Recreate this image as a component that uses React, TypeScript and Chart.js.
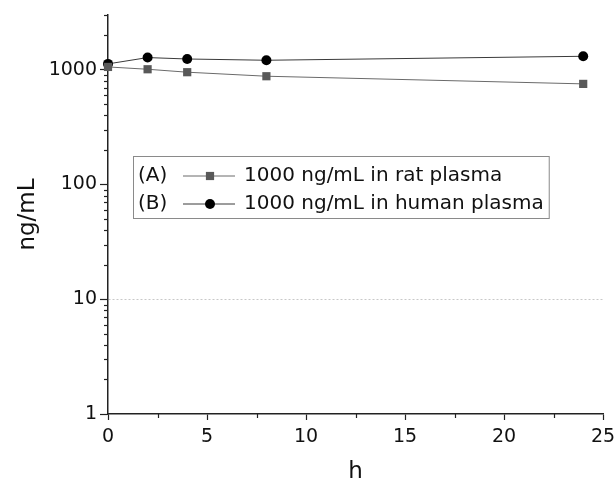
import React, { useEffect, useRef } from 'react';
import { Chart, registerables } from 'chart.js';

Chart.register(...registerables);

// ---- data ----
const hours = [0, 2, 4, 8, 24];
const ratPlasma = [1058, 1010, 952, 878, 753];
const humanPlasma = [1125, 1277, 1241, 1210, 1310];
const seriesTags = ['(A)', '(B)'];
const seriesLabels = ['1000 ng/mL in rat plasma', '1000 ng/mL in human plasma'];

// ---- axes ----
const yMin = 1;
const yMax = 3000;
const yDecades = [1, 10, 100, 1000];
const ySignificands = [1, 2, 3, 4, 5, 6, 7, 8, 9];
const yLabeledTicks = [1, 10, 100, 1000];
const yGridValues = [10];
const xMin = 0;
const xMax = 25;
const xStep = 2.5;
const xLabelEvery = 5;
const xTitle = 'h';
const yTitle = 'ng/mL';

const FONT = '"DejaVu Sans", Verdana, sans-serif';

const yTickValues: number[] = [];
yDecades.forEach((d) => ySignificands.forEach((s) => {
  const v = d * s;
  if (v <= yMax) yTickValues.push(v);
}));

const isYMajor = (v: number) => yLabeledTicks.includes(v);
const isXMajor = (v: number) => Math.abs(v % xLabelEvery) < 1e-6;

const minorTickPlugin = {
  id: 'minorTicks',
  afterDraw(chart: any) {
    const { ctx } = chart;
    const ys = chart.scales.y;
    const xs = chart.scales.x;
    ctx.save();
    ctx.strokeStyle = '#222';
    ctx.lineWidth = 1.2;
    ys.ticks.forEach((t: any) => {
      if (isYMajor(t.value)) return;
      const py = Math.round(ys.getPixelForValue(t.value)) + 0.5;
      ctx.beginPath();
      ctx.moveTo(ys.right - 4, py);
      ctx.lineTo(ys.right, py);
      ctx.stroke();
    });
    xs.ticks.forEach((t: any) => {
      if (isXMajor(t.value)) return;
      const px = Math.round(xs.getPixelForValue(t.value)) + 0.5;
      ctx.beginPath();
      ctx.moveTo(px, xs.top);
      ctx.lineTo(px, xs.top + 4);
      ctx.stroke();
    });
    ctx.restore();
  },
};

const boxLegendPlugin = {
  id: 'boxLegend',
  afterDatasetsDraw(chart: any) {
    const { ctx, chartArea } = chart;
    const x0 = chartArea.left + 25;
    const y0 = chartArea.top + 141;
    const rowH = 28;
    ctx.save();
    ctx.font = '20px ' + FONT;
    const textX = x0 + 111;
    let maxW = 0;
    chart.data.datasets.forEach((ds: any) => {
      maxW = Math.max(maxW, ctx.measureText(ds.label).width);
    });
    const boxW = textX + maxW + 5 - x0;
    const boxH = 62;
    ctx.fillStyle = '#ffffff';
    ctx.fillRect(x0, y0, boxW, boxH);
    ctx.strokeStyle = '#8a8a8a';
    ctx.lineWidth = 1;
    ctx.strokeRect(Math.round(x0) + 0.5, Math.round(y0) + 0.5, boxW, boxH);
    chart.data.datasets.forEach((ds: any, i: number) => {
      const cy = y0 + 20 + i * rowH;
      ctx.fillStyle = '#111';
      ctx.textBaseline = 'middle';
      ctx.textAlign = 'left';
      ctx.fillText(seriesTags[i], x0 + 5, cy);
      ctx.fillText(ds.label, textX, cy);
      ctx.strokeStyle = ds.borderColor;
      ctx.lineWidth = 1;
      ctx.beginPath();
      ctx.moveTo(x0 + 50, cy);
      ctx.lineTo(x0 + 102, cy);
      ctx.stroke();
      const mx = x0 + 77;
      ctx.fillStyle = ds.pointBackgroundColor;
      if (ds.pointStyle === 'rect') {
        const s = ds.pointRadius * Math.SQRT1_2;
        ctx.fillRect(mx - s, cy - s, 2 * s, 2 * s);
      } else {
        ctx.beginPath();
        ctx.arc(mx, cy, ds.pointRadius, 0, Math.PI * 2);
        ctx.fill();
      }
    });
    ctx.restore();
  },
};

export default function App() {
  const ref = useRef<HTMLCanvasElement>(null);

  useEffect(() => {
    if (!ref.current) return;
    const chart = new Chart(ref.current, {
      type: 'line',
      data: {
        datasets: [
          {
            label: seriesLabels[0],
            data: hours.map((h, i) => ({ x: h, y: ratPlasma[i] })),
            borderColor: '#6a6a6a',
            borderWidth: 1,
            pointStyle: 'rect',
            pointRadius: 5.8,
            pointBackgroundColor: '#595959',
            pointBorderColor: '#595959',
            pointBorderWidth: 0,
            clip: false,
          } as any,
          {
            label: seriesLabels[1],
            data: hours.map((h, i) => ({ x: h, y: humanPlasma[i] })),
            borderColor: '#3a3a3a',
            borderWidth: 1,
            pointStyle: 'circle',
            pointRadius: 5,
            pointBackgroundColor: '#000000',
            pointBorderColor: '#000000',
            pointBorderWidth: 0,
            clip: false,
          } as any,
        ],
      },
      options: {
        animation: false,
        responsive: true,
        maintainAspectRatio: false,
        layout: { padding: { top: 15, right: 13, left: 0, bottom: 0 } },
        plugins: {
          legend: { display: false },
          tooltip: { enabled: false },
        },
        scales: {
          x: {
            type: 'linear',
            min: xMin,
            max: xMax,
            afterFit: (s: any) => { s.height = 77; s.paddingRight = 0; s.paddingLeft = 0; },
            ticks: {
              stepSize: xStep,
              autoSkip: false,
              maxRotation: 0,
              padding: 6,
              color: '#111',
              font: { family: FONT, size: 19 },
              callback: (v: any) => (isXMajor(Number(v)) ? String(v) : ''),
            },
            grid: {
              drawOnChartArea: false,
              tickLength: 6,
              tickWidth: 1.2,
              tickColor: (c: any) => (c.tick && isXMajor(c.tick.value) ? '#222' : 'rgba(0,0,0,0)'),
            },
            border: { display: true, color: '#222', width: 1.5 },
            title: {
              display: true,
              text: xTitle,
              color: '#111',
              font: { family: FONT, size: 23 },
              padding: { top: 0, bottom: 5 },
            },
          },
          y: {
            type: 'logarithmic',
            min: yMin,
            max: yMax,
            afterFit: (s: any) => { s.width = 108; s.paddingTop = 0; s.paddingBottom = 0; },
            afterBuildTicks: (s: any) => {
              s.ticks = yTickValues.map((v) => ({ value: v, major: isYMajor(v) }));
            },
            ticks: {
              autoSkip: false,
              padding: 3,
              color: '#111',
              font: { family: FONT, size: 19 },
              callback: (v: any) => (isYMajor(Number(v)) ? String(v) : ''),
            },
            grid: {
              tickLength: 8,
              tickWidth: 1.2,
              lineWidth: 1,
              color: (c: any) => (c.tick && yGridValues.includes(c.tick.value) ? '#c8c8c8' : 'rgba(0,0,0,0)'),
              tickColor: (c: any) => (c.tick && isYMajor(c.tick.value) ? '#222' : 'rgba(0,0,0,0)'),
            },
            border: { display: true, color: '#222', width: 1.5, dash: [2, 2] },
            title: {
              display: true,
              text: yTitle,
              color: '#111',
              font: { family: FONT, size: 23 },
              padding: { top: 14, bottom: 0 },
            },
          },
        },
      } as any,
      plugins: [minorTickPlugin, boxLegendPlugin],
    });
    return () => chart.destroy();
  }, []);

  return (
    <div style={{ position: 'absolute', left: 0, top: 0, width: 616, height: 491, background: '#fff' }}>
      <canvas ref={ref} />
    </div>
  );
}
